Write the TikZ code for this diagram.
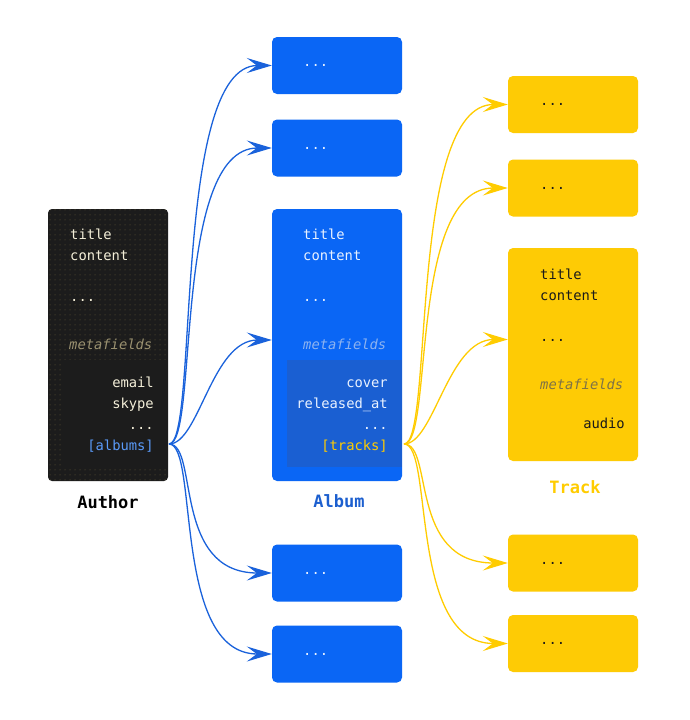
\documentclass[tikz,border=0pt]{standalone}
\usepackage{fontspec}
\setmonofont{DejaVu Sans Mono}
\usetikzlibrary{arrows.meta,patterns.meta}

\definecolor{authbg}{HTML}{1C1C1C}
\definecolor{speck}{HTML}{6A5E38}
\definecolor{authtxt}{HTML}{F4EFD9}
\definecolor{authmeta}{HTML}{9A9170}
\definecolor{albbg}{HTML}{0A66F5}
\definecolor{albin}{HTML}{1A5FD2}
\definecolor{albtxt}{HTML}{EAF2FF}
\definecolor{albmeta}{HTML}{8DB3F0}
\definecolor{albline}{HTML}{1A62DB}
\definecolor{albname}{HTML}{1C5FCF}
\definecolor{albref}{HTML}{5A9AF8}
\definecolor{trkbg}{HTML}{FECB05}
\definecolor{trktxt}{HTML}{1A1A1A}
\definecolor{trkmeta}{HTML}{7F7346}
\definecolor{trkline}{HTML}{FFCC00}

\tikzset{
  authbox/.style={
         rectangle,
         rounded corners=4pt,
         fill=authbg,
         minimum width=120pt,
         minimum height=272pt,
         postaction={pattern={Dots[distance=5pt,radius=0.5pt]},pattern color=speck}},
  albbox/.style={
         rectangle,
         rounded corners=5pt,
         fill=albbg,
         minimum width=130pt,
         minimum height=272pt},
  albsmall/.style={albbox, minimum height=57pt},
  trkbox/.style={
         rectangle,
         rounded corners=5pt,
         fill=trkbg,
         minimum width=130pt,
         minimum height=213pt},
  trksmall/.style={trkbox, minimum height=57pt},
  field/.style={inner sep=0pt, font=\ttfamily\fontsize{13.8}{16}\selectfont},
  metafield/.style={field, font=\ttfamily\itshape\fontsize{13.8}{16}\selectfont},
  boxname/.style={inner sep=0pt, font=\ttfamily\bfseries\fontsize{17}{20}\selectfont},
  albarr/.style={albline, line width=1.3pt,
         -{Stealth[length=25pt,width=15pt,inset=10pt]}},
  trkarr/.style={trkline, line width=1.3pt,
         -{Stealth[length=25pt,width=15pt,inset=10pt]}}
}

\begin{document}
\begin{tikzpicture}[x=1pt,y=-1pt]
  \fill[white] (0,0) rectangle (690,720);
  \useasboundingbox (0,0) rectangle (690,720);

  % author
  \node[authbox] (author) at (108,345) {};
  \fill[authbg] (63,360) rectangle (168,467);
  \node[field, authtxt, anchor=base west] (authtitle) at (70,239) {title};
  \node[field, authtxt, anchor=base west] (authcontent) at (70,260) {content};
  \node[field, authtxt, anchor=base west] (authdots) at (70,301) {...};
  \node[metafield, authmeta, anchor=base west] (authmeta) at (69,349) {metafields};
  \node[field, authtxt, anchor=base east] (email) at (154,387) {email};
  \node[field, authtxt, anchor=base east] (skype) at (154,408) {skype};
  \node[field, authtxt, anchor=base east] (authmore) at (154,429) {...};
  \node[field, albref, anchor=base east] (albums) at (154,450) {[albums]};
  \node[boxname, black, anchor=base] (authname) at (108,508) {Author};

  % albums
  \node[albbox] (album) at (337,345) {};
  \fill[albin] (287,360) rectangle (402,467);
  \node[field, albtxt, anchor=base west] (albtitle) at (303,239) {title};
  \node[field, albtxt, anchor=base west] (albcontent) at (303,260) {content};
  \node[field, albtxt, anchor=base west] (albdots) at (303,301) {...};
  \node[metafield, albmeta, anchor=base west] (albmeta) at (303,349) {metafields};
  \node[field, albtxt, anchor=base east] (cover) at (388,387) {cover};
  \node[field, albtxt, anchor=base east] (released) at (388,408) {released\_at};
  \node[field, albtxt, anchor=base east] (albmore) at (388,429) {...};
  \node[field, trkline, anchor=base east] (tracks) at (388,450) {[tracks]};
  \node[boxname, albname, anchor=base] (albname) at (339,507) {Album};

  \node[albsmall] (albA) at (337,65.5) {};
  \node[albsmall] (albB) at (337,148) {};
  \node[albsmall] (albC) at (337,573) {};
  \node[albsmall] (albD) at (337,654) {};
  \foreach \n/\y in {A/65.5,B/148,C/573,D/654}
    \node[field, albtxt, anchor=base west] (albdots\n) at (303,\y+1) {...};

  % tracks
  \node[trkbox] (track) at (573,354.5) {};
  \node[field, trktxt, anchor=base west] (trktitle) at (540,279) {title};
  \node[field, trktxt, anchor=base west] (trkcontent) at (540,300) {content};
  \node[field, trktxt, anchor=base west] (trkdots) at (540,341) {...};
  \node[metafield, trkmeta, anchor=base west] (trkmeta) at (540,389) {metafields};
  \node[field, trktxt, anchor=base east] (audio) at (625,428) {audio};
  \node[boxname, trkline, anchor=base] (trkname) at (575,493) {Track};

  \node[trksmall] (trkA) at (573,104.5) {};
  \node[trksmall] (trkB) at (573,188) {};
  \node[trksmall] (trkC) at (573,563) {};
  \node[trksmall] (trkD) at (573,643.5) {};
  \foreach \n/\y in {A/104.5,B/188,C/563,D/643.5}
    \node[field, trktxt, anchor=base west] (trkdots\n) at (540,\y+1) {...};

  % links
  \coordinate (albumsout) at (169,444);
  \coordinate (tracksout) at (404,444);
  \foreach \to in {albA,albB,albC,albD}
    \draw[albarr] (albumsout) to[out=0,in=180,out distance=30,in distance=100] (\to.west);
  \draw[albarr] (albumsout) to[out=0,in=180,out distance=30,in distance=60] ([yshift=5pt]album.west);
  \foreach \to in {trkA,trkB,trkC,trkD}
    \draw[trkarr] (tracksout) to[out=0,in=180,out distance=30,in distance=100] (\to.west);
  \draw[trkarr] (tracksout) to[out=0,in=180,out distance=30,in distance=60] ([yshift=15pt]track.west);
\end{tikzpicture}
\end{document}
